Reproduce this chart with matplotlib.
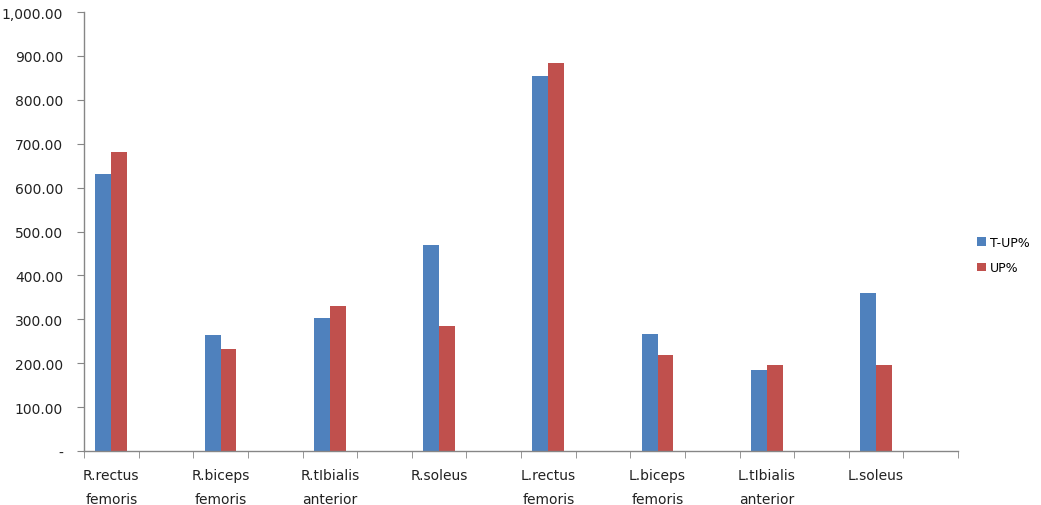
import matplotlib
matplotlib.use("Agg")
import matplotlib.pyplot as plt
import numpy as np

categories = ["R.rectus\nfemoris", "R.biceps\nfemoris", "R.tIbialis\nanterior", "R.soleus",
              "L.rectus\nfemoris", "L.biceps\nfemoris", "L.tIbialis\nanterior", "L.soleus"]
t_up = [632, 264, 302, 470, 854, 267, 185, 361]
up = [681, 232, 331, 285, 883, 219, 195, 195]
series_names = ["T-UP%", "UP%"]
yticks = [0, 100, 200, 300, 400, 500, 600, 700, 800, 900, 1000]

plt.rcParams['font.family'] = ['DejaVu Sans']

fig = plt.figure(figsize=(10.41, 5.06), dpi=100)
ax = fig.add_axes([84/1041, 54/506, (958-84)/1041, (452-13)/506])

n_slots = 2 * len(categories)
pos = np.arange(len(categories)) * 2
w = 0.29
b1 = ax.bar(pos - w/2, t_up, width=w, color="#4F81BD", label=series_names[0])
b2 = ax.bar(pos + w/2, up, width=w, color="#C0504D", label=series_names[1])

ax.set_xlim(-0.5, n_slots - 0.5)
ax.set_ylim(0, 1000)

ax.set_xticks(pos)
ax.set_xticklabels(categories, fontsize=10, linespacing=1.95, color="#222222")
ax.set_xticks(np.arange(-0.5, n_slots), minor=True)
ax.tick_params(axis='x', which='major', length=0, pad=12)
ax.tick_params(axis='x', which='minor', length=5, direction='out', color="#868686")

ax.set_yticks(yticks)
ax.set_yticklabels([("-" if v == 0 else f"{v:,.2f}") for v in yticks], fontsize=10, color="#222222")
ax.tick_params(axis='y', length=5, direction='out', color="#868686", pad=10)

for s in ["top", "right"]:
    ax.spines[s].set_visible(False)
for s in ["left", "bottom"]:
    ax.spines[s].set_color("#868686")
    ax.spines[s].set_linewidth(1)

fig.legend(handles=[b1, b2], labels=series_names, loc="center left",
           bbox_to_anchor=(972/1041, 1 - 256/506), frameon=False,
           fontsize=9, handlelength=0.7, handleheight=0.7, handletextpad=0.3,
           labelspacing=1.0, borderpad=0.2, borderaxespad=0.2)

fig.savefig("out.png", dpi=100)
